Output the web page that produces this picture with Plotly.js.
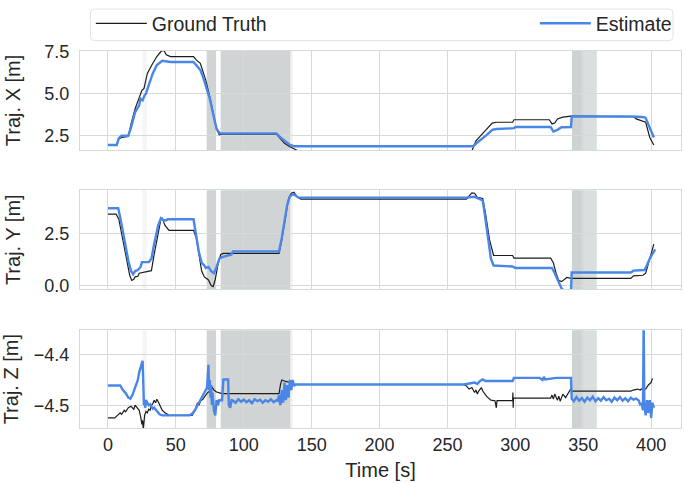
<!DOCTYPE html>
<html>
<head>
<meta charset="utf-8">
<script src="https://cdn.plot.ly/plotly-3.0.1.min.js"></script>
<style>
  html, body { margin: 0; padding: 0; background: #fff; }
  #chart { width: 685px; height: 483px; }
</style>
</head>
<body>
<div id="chart"></div>
<script>
// Trajectory X: ground truth vs estimate
const gtXTime = [0, 6, 8, 10, 15, 17, 20, 23, 25, 26.5, 29, 33, 36, 39, 41, 43, 46, 63, 65, 68, 70, 72, 75, 78, 80, 82, 84, 124, 127, 130, 134, 137, 140, 268, 271, 275, 279, 283, 286, 298, 299, 325, 327, 329, 331, 335, 341, 387, 389, 393, 396, 399, 402];
const gtX = [1.95, 1.95, 2.3, 2.4, 2.45, 3.2, 4.1, 4.7, 5.2, 5.3, 6.2, 6.8, 7.2, 7.5, 7.58, 7.3, 7.2, 7.2, 7.0, 6.8, 6.3, 5.8, 4.8, 3.6, 2.9, 2.55, 2.6, 2.6, 2.3, 2.05, 1.85, 1.7, 1.6, 1.6, 2.2, 2.55, 2.9, 3.25, 3.3, 3.3, 3.45, 3.45, 3.2, 3.25, 3.5, 3.6, 3.66, 3.64, 3.5, 3.4, 3.3, 2.4, 1.95];
const estXTime = [0, 6.5, 8, 10, 15, 17, 20, 23, 24, 25.5, 27, 28, 30, 33, 36, 40, 46, 63, 66, 68, 70, 72, 75, 78, 80, 82.5, 124, 127, 130, 134, 137, 269, 272, 276, 279, 283, 286, 299, 300, 326, 328, 331, 334, 341, 341.5, 387, 392, 395, 396, 399, 402];
const estX = [1.95, 1.95, 2.35, 2.5, 2.5, 3.0, 3.9, 4.3, 4.7, 4.6, 4.9, 5.0, 5.5, 6.2, 6.7, 6.95, 6.88, 6.88, 6.6, 6.4, 6.0, 5.5, 4.7, 3.6, 2.9, 2.64, 2.64, 2.4, 2.2, 1.95, 1.88, 1.88, 2.1, 2.35, 2.55, 2.85, 2.9, 2.95, 3.02, 3.02, 2.75, 2.85, 3.0, 3.02, 3.64, 3.64, 3.62, 3.6, 3.55, 3.0, 2.4];

// Trajectory Y
const gtYTime = [0, 6, 8, 11, 14, 16, 17.5, 19, 20, 22, 23, 28, 32, 34, 37, 39, 40, 42, 45, 63, 65, 67, 69, 71, 74, 76, 77.5, 79, 81, 83, 85, 126, 128, 131, 133, 135, 137, 139, 142, 264, 266, 268, 270, 272, 276, 278, 281, 284, 298, 299, 326, 328, 330, 332, 334, 336, 338, 341, 385, 387, 394, 396, 399, 402];
const gtY = [3.44, 3.44, 3.2, 2.2, 1.2, 0.5, 0.25, 0.3, 0.42, 0.45, 0.6, 0.65, 0.72, 1.5, 2.6, 3.2, 3.25, 2.9, 2.66, 2.66, 2.3, 1.4, 0.7, 0.42, 0.27, 0.0, -0.05, 0.3, 1.0, 1.5, 1.55, 1.55, 2.2, 3.4, 4.2, 4.45, 4.5, 4.3, 4.17, 4.17, 4.35, 4.47, 4.45, 4.25, 4.2, 3.5, 2.2, 1.45, 1.45, 1.32, 1.32, 1.1, 0.6, 0.25, 0.19, 0.3, 0.39, 0.35, 0.35, 0.47, 0.5, 0.6, 1.3, 2.0];
const estYTime = [0, 7.5, 9, 11, 13, 15, 17, 18.5, 20, 22, 24, 25, 30, 32, 34, 37, 39, 41, 43, 44, 63, 65, 67, 69, 71, 72, 74, 76, 78, 80, 82, 84, 88, 91, 92, 126, 128, 130, 132, 134, 136, 138, 140, 143, 264, 270, 273, 276, 278, 280, 282, 284, 298, 300, 327, 329, 331, 333, 334, 336, 341, 341.5, 385, 387, 395, 396, 399, 403];
const estY = [3.73, 3.73, 3.3, 2.6, 1.8, 1.2, 0.7, 0.55, 0.7, 0.75, 0.9, 1.13, 1.13, 1.3, 2.0, 2.9, 3.25, 3.15, 3.15, 3.2, 3.2, 2.5, 1.6, 1.1, 0.97, 0.85, 0.9, 0.7, 0.6, 0.9, 1.3, 1.37, 1.45, 1.5, 1.65, 1.65, 2.3, 3.2, 3.9, 4.3, 4.4, 4.35, 4.25, 4.24, 4.24, 4.28, 4.2, 4.1, 3.2, 2.2, 1.3, 0.97, 0.92, 0.85, 0.85, 0.6, 0.3, 0.0, -0.13, -0.25, -0.25, 0.63, 0.63, 0.72, 0.75, 0.85, 1.3, 1.75];

// Trajectory Z
const gtZTime = [0, 5, 7, 9, 10, 12, 13, 15, 17, 19, 20, 22, 23, 24, 25, 25.5, 26, 27, 28, 29, 30, 31, 32, 33, 34, 35, 36, 37, 38, 39, 40, 42, 45, 62, 64, 66, 67, 68, 70, 72, 73, 75, 77, 78, 80, 84, 126, 127, 128, 131, 134, 137, 262, 264, 266, 268, 270, 271, 272, 273, 275, 276, 279, 282, 285, 286, 286.5, 298, 298.2, 298.4, 298.6, 326, 327, 328, 329, 331, 332, 333, 335, 337, 339, 341, 341.5, 385, 387, 390, 392, 394, 396, 398, 400, 401];
const gtZ = [-4.525, -4.525, -4.52, -4.515, -4.518, -4.51, -4.513, -4.505, -4.502, -4.508, -4.5, -4.506, -4.51, -4.522, -4.538, -4.53, -4.548, -4.52, -4.512, -4.515, -4.508, -4.51, -4.5, -4.497, -4.49, -4.495, -4.488, -4.493, -4.5, -4.505, -4.51, -4.515, -4.52, -4.52, -4.51, -4.495, -4.5, -4.492, -4.488, -4.48, -4.476, -4.472, -4.465, -4.47, -4.474, -4.477, -4.477, -4.46, -4.45, -4.453, -4.455, -4.459, -4.459, -4.462, -4.468, -4.465, -4.475, -4.47, -4.478, -4.472, -4.465, -4.472, -4.483, -4.49, -4.491, -4.505, -4.491, -4.491, -4.475, -4.505, -4.486, -4.486, -4.48, -4.488, -4.478, -4.49, -4.482, -4.492, -4.478, -4.485, -4.475, -4.467, -4.472, -4.472, -4.47, -4.468, -4.47, -4.466, -4.468, -4.46, -4.455, -4.447];
const estZTime = [0, 9, 11, 13, 15, 16.5, 18, 20, 22, 23, 24, 25.5, 26.5, 27, 27.5, 28, 29, 30, 31, 32, 33, 34, 36, 38, 40, 60, 62, 64, 66, 68, 70, 72, 73, 74, 74.5, 75, 75.5, 76, 76.5, 77, 78, 79, 80, 81, 82, 84, 85, 88.5, 89, 90, 91, 92, 94, 96, 98, 100, 102, 104, 106, 108, 110, 112, 114, 116, 118, 120, 122, 124, 125, 126, 127, 128, 129, 130, 131, 132, 133, 134, 135, 136, 137, 138, 262, 266, 270, 272, 274, 276, 278, 298, 299, 318, 320, 321, 322, 330, 341, 341.5, 343, 345, 347, 349, 351, 353, 355, 357, 359, 361, 363, 365, 367, 369, 371, 373, 375, 377, 379, 381, 383, 385, 387, 389, 391, 392, 393, 394, 394.5, 395, 396, 397, 398, 399, 400, 401, 402];
const estZ = [-4.461, -4.461, -4.47, -4.476, -4.485, -4.487, -4.48, -4.465, -4.45, -4.435, -4.425, -4.412, -4.5, -4.495, -4.505, -4.49, -4.495, -4.5, -4.498, -4.503, -4.507, -4.505, -4.512, -4.518, -4.52, -4.52, -4.517, -4.51, -4.5, -4.49, -4.48, -4.47, -4.465, -4.42, -4.47, -4.45, -4.485, -4.46, -4.5, -4.475, -4.51, -4.52, -4.49, -4.5, -4.49, -4.49, -4.449, -4.449, -4.5, -4.505, -4.49, -4.491, -4.495, -4.488, -4.493, -4.489, -4.494, -4.49, -4.496, -4.488, -4.492, -4.489, -4.495, -4.49, -4.493, -4.488, -4.494, -4.49, -4.491, -4.48, -4.5, -4.47, -4.495, -4.455, -4.49, -4.46, -4.485, -4.45, -4.47, -4.45, -4.462, -4.459, -4.459, -4.457, -4.455, -4.458, -4.452, -4.449, -4.452, -4.452, -4.446, -4.446, -4.45, -4.444, -4.449, -4.446, -4.446, -4.487, -4.492, -4.484, -4.491, -4.486, -4.493, -4.485, -4.49, -4.483, -4.492, -4.486, -4.491, -4.484, -4.49, -4.487, -4.493, -4.485, -4.49, -4.484, -4.491, -4.486, -4.492, -4.485, -4.489, -4.487, -4.491, -4.5, -4.495, -4.51, -4.33, -4.5, -4.52, -4.49, -4.515, -4.49, -4.525, -4.495, -4.505];

// shaded time intervals [s] and their strength
const spanStart = [25.5, 72.7, 83, 134.5, 341.7, 341.7];
const spanEnd = [28.5, 79.6, 134.3, 136, 360, 349];
const spanAlpha = [0.1, 0.45, 0.45, 0.15, 0.35, 0.18];

const BLUE = "#4a86e8";
const BLACK = "#1c1c1c";
const GRID = "#d3dbdb";
const FONT = "Liberation Sans, Arial, sans-serif";

// plot area in pixels, used to place the legend frame
const PLOT_L = 80, PLOT_W = 601, PLOT_T = 46.5, PLOT_H = 382;
const px2x = px => (px - PLOT_L) / PLOT_W;
const py2y = py => 1 + (PLOT_T - py) / PLOT_H;

const series = [
  { t: gtXTime, v: gtX, ax: "", name: "Ground Truth", gt: true },
  { t: estXTime, v: estX, ax: "", name: "Estimate", gt: false },
  { t: gtYTime, v: gtY, ax: "2", name: "Ground Truth", gt: true },
  { t: estYTime, v: estY, ax: "2", name: "Estimate", gt: false },
  { t: gtZTime, v: gtZ, ax: "3", name: "Ground Truth", gt: true },
  { t: estZTime, v: estZ, ax: "3", name: "Estimate", gt: false }
];

const traces = series.map((s, i) => ({
  x: s.t,
  y: s.v,
  xaxis: "x" + s.ax,
  yaxis: "y" + s.ax,
  type: "scatter",
  mode: "lines",
  name: s.name,
  legendgroup: s.name,
  showlegend: i < 2,
  legendwidth: s.gt ? 378 : 76,
  line: s.gt ? { color: BLACK, width: 1.2 } : { color: BLUE, width: 2.4 }
}));

const xBase = {
  range: [-20.6, 422],
  dtick: 50,
  tick0: 0,
  showgrid: true,
  gridcolor: GRID,
  gridwidth: 1,
  zeroline: false,
  showline: true,
  mirror: true,
  linecolor: GRID,
  ticks: "",
  tickfont: { family: FONT, size: 18, color: "#262626" }
};

const yBase = {
  showgrid: true,
  gridcolor: GRID,
  gridwidth: 1,
  zeroline: false,
  showline: true,
  mirror: true,
  linecolor: GRID,
  ticks: "",
  tickformat: ".1f",
  ticklabelstandoff: 6,
  tickfont: { family: FONT, size: 18, color: "#262626" }
};

function yTitle(text) {
  return { text: text, standoff: 18, font: { family: FONT, size: 20, color: "#262626" } };
}

const shapes = [];
["", "2", "3"].forEach(ax => {
  spanStart.forEach((s, i) => {
    shapes.push({
      type: "rect",
      xref: "x" + ax,
      yref: "y" + ax + " domain",
      x0: s,
      x1: spanEnd[i],
      y0: 0,
      y1: 1,
      layer: "below",
      line: { width: 0 },
      fillcolor: `rgba(150,160,160,${spanAlpha[i]})`
    });
  });
});

// legend frame with rounded corners (matplotlib style)
function roundedBox(l, t, r, b, rad) {
  const x = px2x, y = py2y;
  return `M ${x(l + rad)},${y(t)} L ${x(r - rad)},${y(t)} Q ${x(r)},${y(t)} ${x(r)},${y(t + rad)} ` +
    `L ${x(r)},${y(b - rad)} Q ${x(r)},${y(b)} ${x(r - rad)},${y(b)} ` +
    `L ${x(l + rad)},${y(b)} Q ${x(l)},${y(b)} ${x(l)},${y(b - rad)} ` +
    `L ${x(l)},${y(t + rad)} Q ${x(l)},${y(t)} ${x(l + rad)},${y(t)} Z`;
}
shapes.push({
  type: "path",
  xref: "paper",
  yref: "paper",
  path: roundedBox(90.5, 4, 673, 36, 4),
  line: { color: "#e2e2e2", width: 1 },
  fillcolor: "rgba(255,255,255,0)"
});

const layout = {
  width: 685,
  height: 483,
  margin: { l: PLOT_L, r: 685 - PLOT_L - PLOT_W, t: PLOT_T, b: 483 - PLOT_T - PLOT_H },
  paper_bgcolor: "#ffffff",
  plot_bgcolor: "#ffffff",
  font: { family: FONT, size: 18, color: "#262626" },
  showlegend: true,
  legend: {
    orientation: "h",
    x: 0.018,
    xanchor: "left",
    y: py2y(-1),
    yanchor: "top",
    borderwidth: 0,
    bgcolor: "rgba(255,255,255,0)",
    itemwidth: 51,
    font: { family: FONT, size: 19.5, color: "#262626" },
    entrywidthmode: "pixels"
  },
  xaxis: { ...xBase, anchor: "y", showticklabels: false },
  xaxis2: { ...xBase, anchor: "y2", showticklabels: false },
  xaxis3: {
    ...xBase,
    anchor: "y3",
    title: { text: "Time [s]", standoff: 9, font: { family: FONT, size: 20, color: "#262626" } }
  },
  yaxis: { ...yBase, domain: [0.7377, 1], range: [1.66, 7.53], tickvals: [2.5, 5.0, 7.5], title: yTitle("Traj. X [m]") },
  yaxis2: { ...yBase, domain: [0.3678, 0.6309], range: [-0.18, 4.6], tickvals: [0, 2.5], title: yTitle("Traj. Y [m]") },
  yaxis3: { ...yBase, domain: [0, 0.259], range: [-4.545, -4.352], tickvals: [-4.5, -4.4], title: yTitle("Traj. Z [m]") },
  shapes: shapes
};

Plotly.newPlot("chart", traces, layout, { displayModeBar: false, staticPlot: true });
</script>
</body>
</html>
